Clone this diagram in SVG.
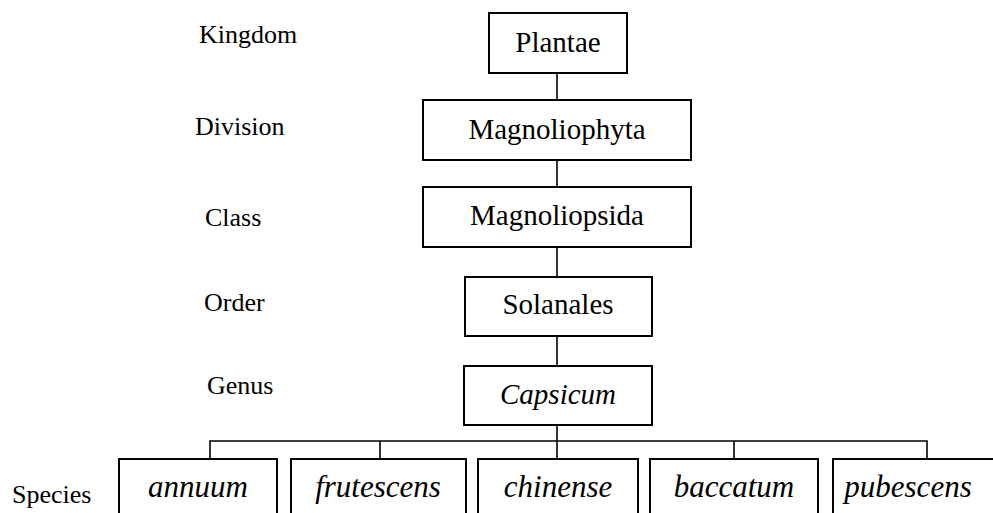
<svg xmlns="http://www.w3.org/2000/svg" width="993" height="513" viewBox="0 0 993 513">
<style>
.box{fill:#fff;stroke:#000;stroke-width:2}
text{font-family:'Liberation Serif','Times New Roman','Nimbus Roman','Noto Serif','DejaVu Serif',serif;fill:#000}
.lbl{font-size:26px}
.nt{font-size:29px;text-anchor:middle}
.sp{font-size:31px;font-style:italic;text-anchor:middle}
.con{fill:none;stroke:#000;stroke-width:1.6}
</style>
<rect width="993" height="513" fill="#fff"/>
<g id="labels">
<text class="lbl" x="199" y="43" font-family="Liberation Serif">Kingdom</text>
<text class="lbl" x="195" y="135">Division</text>
<text class="lbl" x="205" y="226">Class</text>
<text class="lbl" x="204" y="311">Order</text>
<text class="lbl" x="207" y="394">Genus</text>
<text class="lbl" x="12" y="503">Species</text>
</g>
<g id="connectors">
<line class="con" x1="557" y1="73" x2="557" y2="100"/>
<line class="con" x1="557" y1="160" x2="557" y2="187"/>
<line class="con" x1="557" y1="247" x2="557" y2="277"/>
<line class="con" x1="557" y1="336" x2="557" y2="366"/>
<line class="con" x1="557" y1="425" x2="557" y2="459"/>
<polyline class="con" points="210,459 210,441 927,441 927,459"/>
<line class="con" x1="380" y1="441" x2="380" y2="459"/>
<line class="con" x1="734" y1="441" x2="734" y2="459"/>
</g>
<g id="plantae"><rect class="box" x="489" y="13" width="138" height="60"/><text class="nt" x="558" y="52">Plantae</text></g>
<g id="magnoliophyta"><rect class="box" x="423" y="100" width="268" height="60"/><text class="nt" x="557" y="139">Magnoliophyta</text></g>
<g id="magnoliopsida"><rect class="box" x="423" y="187" width="268" height="60"/><text class="nt" x="557" y="225">Magnoliopsida</text></g>
<g id="solanales"><rect class="box" x="465" y="277" width="187" height="59"/><text class="nt" x="558" y="314">Solanales</text></g>
<g id="capsicum"><rect class="box" x="464" y="366" width="188" height="59"/><text class="nt" x="558" y="404" font-style="italic">Capsicum</text></g>
<g id="annuum"><rect class="box" x="119" y="459" width="158" height="80"/><text class="sp" x="198" y="497">annuum</text></g>
<g id="frutescens"><rect class="box" x="291" y="459" width="175" height="80"/><text class="sp" x="378" y="497">frutescens</text></g>
<g id="chinense"><rect class="box" x="478" y="459" width="160" height="80"/><text class="sp" x="558" y="497">chinense</text></g>
<g id="baccatum"><rect class="box" x="650" y="459" width="168" height="80"/><text class="sp" x="734" y="497">baccatum</text></g>
<g id="pubescens"><rect class="box" x="833" y="459" width="180" height="80"/><text class="sp" x="908" y="497">pubescens</text></g>
</svg>
